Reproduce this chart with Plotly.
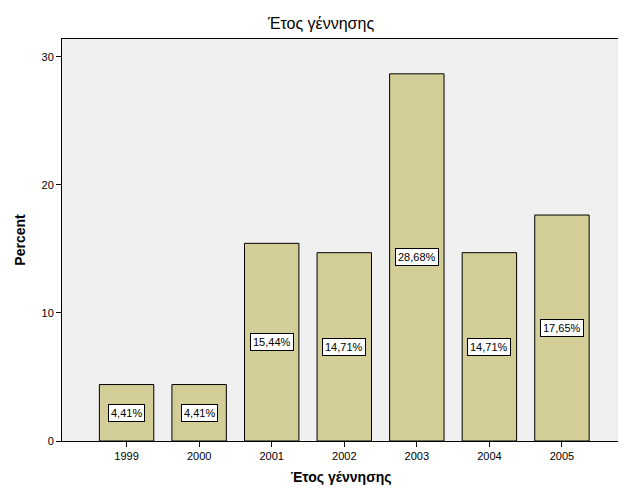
import plotly.graph_objects as go

years = ["1999", "2000", "2001", "2002", "2003", "2004", "2005"]
percents = [4.41, 4.41, 15.44, 14.71, 28.68, 14.71, 17.65]
labels = ["4,41%", "4,41%", "15,44%", "14,71%", "28,68%", "14,71%", "17,65%"]

fig = go.Figure(go.Bar(
    x=list(range(len(years))), y=percents, width=0.75,
    marker=dict(color="#D3CE97", line=dict(color="black", width=1)),
    hoverinfo="skip"))

for i, (v, t) in enumerate(zip(percents, labels)):
    fig.add_annotation(x=i, y=v / 2, text=t, showarrow=False,
                       font=dict(family="Arial", size=11, color="black"),
                       bgcolor="white", bordercolor="black", borderwidth=1, borderpad=2)

fig.update_layout(
    width=626, height=501,
    margin=dict(l=50, r=14, t=31, b=68),
    paper_bgcolor="white", plot_bgcolor="#F0F0F0",
    title=dict(text="Έτος γέννησης", x=0.5, xanchor="center", y=0.98, yanchor="top",
               font=dict(family="Arial", size=16, color="black")),
    showlegend=False,
    xaxis=dict(tickmode="array", tickvals=list(range(len(years))), ticktext=years,
               range=[-0.89, 6.8], showgrid=False, zeroline=False,
               showline=True, linecolor="black", mirror=True, ticks="outside",
               ticklen=5, tickcolor="black",
               tickfont=dict(family="Arial", size=11, color="black"),
               title=dict(text="<b>Έτος γέννησης</b>", standoff=10,
                          font=dict(family="Arial", size=14, color="black"))),
    yaxis=dict(range=[0, 31.4], tickvals=[0, 10, 20, 30], showgrid=False, zeroline=False,
               showline=True, linecolor="black", mirror=True, ticks="outside",
               ticklen=5, tickcolor="black",
               tickfont=dict(family="Arial", size=11, color="black"),
               title=dict(text="<b>Percent</b>", standoff=12,
                          font=dict(family="Arial", size=14, color="black"))),
)

fig.write_html("out.html")
